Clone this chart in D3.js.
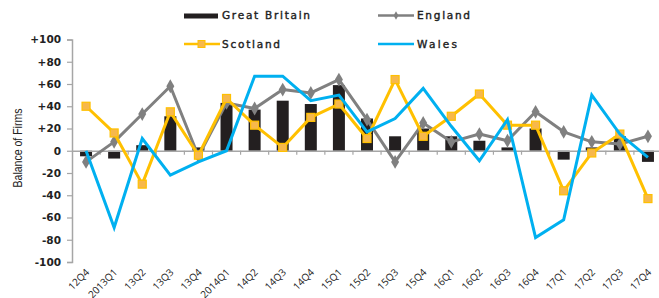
<!DOCTYPE html>
<html><head><meta charset="utf-8">
<script src="https://cdn.jsdelivr.net/npm/d3@7"></script>
<style>body{margin:0;background:#fff}</style>
</head><body>
<svg id="c" width="659" height="298"></svg>
<script>
const categories = ["12Q4","2013Q1","13Q2","13Q3","13Q4","2014Q1","14Q2","14Q3","14Q4","15Q1","15Q2","15Q3","15Q4","16Q1","16Q2","16Q3","16Q4","17Q1","17Q2","17Q3","17Q4"];
const greatBritain = [-5,-7,5,31,3,43,37,45,42,59,29,13,20,13,9,3,20,-8,3,13,-10];
const england = [-10,8,33,58,-5,43,38,55,52,64,28,-10,25,8,15,9,35,17,8,6,13];
const scotland = [40,16,-30,35,-4,47,23,3,30,42,11,64,13,31,51,23,23,-36,-2,15,-43];
const wales = [0,-69,11,-22,-10,0,67,67,45,50,17,29,56,22,-9,28,-78,-62,50,15,-6];
const yTicks = [-100,-80,-60,-40,-20,0,20,40,60,80,100];
const yTickLabels = ["-100","-80","-60","-40","-20","0","+20","+40","+60","+80","+100"];

const svg = d3.select("#c");
const x = d3.scaleBand().domain(categories).range([72, 662]);
const y = d3.scaleLinear().domain([-100, 100]).range([262, 39.5]);
const axisCol = "#a6a6a6";

// y axis
const yAxis = svg.append("g").attr("transform","translate(72,0)")
  .call(d3.axisLeft(y).tickValues(yTicks).tickFormat((d,i)=>yTickLabels[i]).tickSize(5).tickPadding(6));
yAxis.select(".domain").attr("stroke", axisCol).attr("stroke-width",1.5);
yAxis.selectAll(".tick line").attr("stroke", axisCol).attr("stroke-width",1.2);
yAxis.selectAll("text").attr("font-family","DejaVu Sans, sans-serif").attr("font-size","10.5px").attr("font-weight","bold").attr("fill","#222");

// y title
svg.append("text").attr("transform","translate(21.5,148) rotate(-90)").attr("text-anchor","middle")
  .attr("font-family","Liberation Sans, Arial, sans-serif").attr("font-size","12.5px").attr("fill","#222")
  .attr("textLength",79).attr("lengthAdjust","spacingAndGlyphs")
  .text("Balance of Firms");

// bars
svg.append("g").selectAll("rect").data(categories).join("rect")
  .attr("x", d => x(d) + x.bandwidth()/2 - 6)
  .attr("width", 12)
  .attr("y", (d,i) => Math.min(y(greatBritain[i]), y(0)))
  .attr("height", (d,i) => Math.abs(y(greatBritain[i]) - y(0)))
  .attr("fill", "#231f20");

// x axis at zero
const xAxis = svg.append("g").attr("transform",`translate(0,${y(0)})`)
  .call(d3.axisBottom(x).tickSize(0).tickFormat(""));
xAxis.select(".domain").attr("stroke", axisCol).attr("stroke-width",1.5);
svg.append("g").selectAll("line").data(categories.slice(1)).join("line")
  .attr("x1", d => x(d)).attr("x2", d => x(d))
  .attr("y1", y(0)).attr("y2", y(0)+4).attr("stroke", axisCol).attr("stroke-width",1.2);

// x labels
svg.append("g").selectAll("text").data(categories).join("text")
  .attr("transform", d => `translate(${x(d)+x.bandwidth()/2+4},${273}) rotate(-45)`)
  .attr("text-anchor","end")
  .attr("font-family","Open Sans, DejaVu Sans, sans-serif").attr("font-size","10px").attr("fill","#222")
  .text(d => d);

const cx = d => x(d) + x.bandwidth()/2;
const line = vals => d3.line().x((d,i)=>cx(categories[i])).y((d,i)=>y(vals[i]))(vals);

// England
svg.append("path").attr("d", line(england)).attr("fill","none").attr("stroke","#808080").attr("stroke-width",3).attr("stroke-linejoin","round");
svg.append("g").selectAll("path").data(england).join("path")
  .attr("d", d3.symbol().type(d3.symbolDiamond).size(55))
  .attr("transform", (d,i) => `translate(${cx(categories[i])},${y(d)})`)
  .attr("fill","#808080");

// Scotland
svg.append("path").attr("d", line(scotland)).attr("fill","none").attr("stroke","#ffc000").attr("stroke-width",3).attr("stroke-linejoin","round");
svg.append("g").selectAll("rect").data(scotland).join("rect")
  .attr("x",(d,i)=>cx(categories[i])-4).attr("y",d=>y(d)-4).attr("width",8).attr("height",8)
  .attr("fill","#f7b84b").attr("stroke","#ffc000").attr("stroke-width",1.2);

// Wales
svg.append("path").attr("d", line(wales)).attr("fill","none").attr("stroke","#00b0f0").attr("stroke-width",3).attr("stroke-linejoin","miter");

// Legend
const lg = svg.append("g").attr("font-family","DejaVu Sans, sans-serif").attr("font-size","10.5px")
  .attr("fill","#222").attr("stroke","#222").attr("stroke-width",0.4).attr("lengthAdjust","spacing");
svg.append("rect").attr("x",184).attr("y",13.5).attr("width",34).attr("height",5).attr("fill","#231f20");
lg.append("text").attr("x",222).attr("y",19).attr("textLength",88).text("Great Britain");
svg.append("line").attr("x1",378).attr("x2",414).attr("y1",15.5).attr("y2",15.5).attr("stroke","#808080").attr("stroke-width",2.5);
svg.append("path").attr("d", d3.symbol().type(d3.symbolDiamond).size(20)).attr("transform","translate(396,15.5)").attr("fill","#808080");
lg.append("text").attr("x",417).attr("y",19).attr("textLength",53).text("England");
svg.append("line").attr("x1",184).attr("x2",220).attr("y1",44).attr("y2",44).attr("stroke","#ffc000").attr("stroke-width",2.5);
svg.append("rect").attr("x",198).attr("y",40.5).attr("width",7).attr("height",7).attr("fill","#f7b84b").attr("stroke","#ffc000");
lg.append("text").attr("x",222).attr("y",48).attr("textLength",58).text("Scotland");
svg.append("line").attr("x1",378).attr("x2",414).attr("y1",44).attr("y2",44).attr("stroke","#00b0f0").attr("stroke-width",2.5);
lg.append("text").attr("x",417).attr("y",48).attr("textLength",40).text("Wales");
</script>
</body></html>
